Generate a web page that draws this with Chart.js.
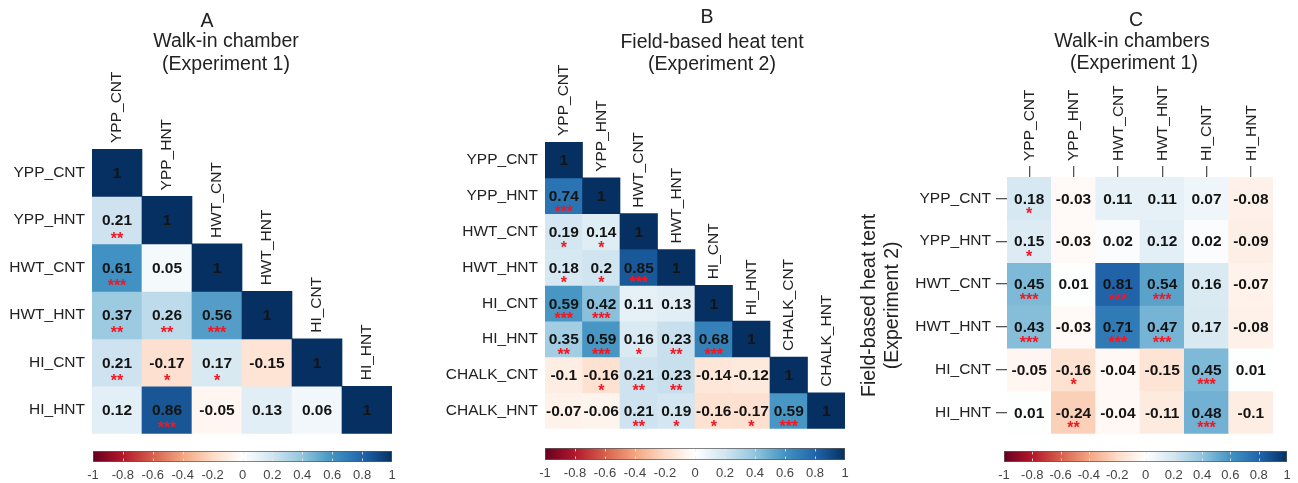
<!DOCTYPE html>
<html lang="en">
<head>
<meta charset="UTF-8" />
<title>Correlation heatmaps</title>
<script src="https://cdn.jsdelivr.net/npm/chart.js"></script>
<style>
    body { margin: 0; background: #fff; }
    #wrap { position: relative; width: 1298px; height: 483px; overflow: hidden; }
    #wrap canvas { position: absolute; }
</style>
</head>
<body>
<div id="wrap">
    <canvas id="heatA" width="400" height="450" style="left:0;top:0"></canvas>
    <canvas id="heatB" width="430" height="445" style="left:430px;top:0"></canvas>
    <canvas id="heatC" width="440" height="448" style="left:858px;top:0"></canvas>
    <canvas id="barA" width="330" height="43" style="left:80px;top:440px"></canvas>
    <canvas id="barB" width="330" height="46" style="left:530px;top:437px"></canvas>
    <canvas id="barC" width="308" height="43" style="left:990px;top:440px"></canvas>
</div>

<script>
const FONT = "'Liberation Sans', Arial, sans-serif";

// A: walk-in chamber, experiment 1 (lower triangle)
const traitsA = ['YPP_CNT', 'YPP_HNT', 'HWT_CNT', 'HWT_HNT', 'HI_CNT', 'HI_HNT'];
const corrA = [
    [1],
    [0.21, 1],
    [0.61, 0.05, 1],
    [0.37, 0.26, 0.56, 1],
    [0.21, -0.17, 0.17, -0.15, 1],
    [0.12, 0.86, -0.05, 0.13, 0.06, 1]
];
const starsA = [
    [''],
    ['**', ''],
    ['***', '', ''],
    ['**', '**', '***', ''],
    ['**', '*', '*', '', ''],
    ['', '***', '', '', '', '']
];

// B: field-based heat tent, experiment 2 (lower triangle)
const traitsB = ['YPP_CNT', 'YPP_HNT', 'HWT_CNT', 'HWT_HNT', 'HI_CNT', 'HI_HNT', 'CHALK_CNT', 'CHALK_HNT'];
const corrB = [
    [1],
    [0.74, 1],
    [0.19, 0.14, 1],
    [0.18, 0.2, 0.85, 1],
    [0.59, 0.42, 0.11, 0.13, 1],
    [0.35, 0.59, 0.16, 0.23, 0.68, 1],
    [-0.1, -0.16, 0.21, 0.23, -0.14, -0.12, 1],
    [-0.07, -0.06, 0.21, 0.19, -0.16, -0.17, 0.59, 1]
];
const starsB = [
    [''],
    ['***', ''],
    ['*', '*', ''],
    ['*', '*', '***', ''],
    ['***', '***', '', '', ''],
    ['**', '***', '*', '**', '***', ''],
    ['', '*', '**', '**', '', '', ''],
    ['', '', '**', '*', '*', '*', '***', '']
];

// C: experiment 2 (rows) vs experiment 1 (columns)
const rowsC = ['YPP_CNT', 'YPP_HNT', 'HWT_CNT', 'HWT_HNT', 'HI_CNT', 'HI_HNT'];
const colsC = ['YPP_CNT', 'YPP_HNT', 'HWT_CNT', 'HWT_HNT', 'HI_CNT', 'HI_HNT'];
const corrC = [
    [0.18, -0.03, 0.11, 0.11, 0.07, -0.08],
    [0.15, -0.03, 0.02, 0.12, 0.02, -0.09],
    [0.45, 0.01, 0.81, 0.54, 0.16, -0.07],
    [0.43, -0.03, 0.71, 0.47, 0.17, -0.08],
    [-0.05, -0.16, -0.04, -0.15, 0.45, 0.01],
    [0.01, -0.24, -0.04, -0.11, 0.48, -0.1]
];
const starsC = [
    ['*', '', '', '', '', ''],
    ['*', '', '', '', '', ''],
    ['***', '', '***', '***', '', ''],
    ['***', '', '***', '***', '', ''],
    ['', '*', '', '', '***', ''],
    ['', '**', '', '', '***', '']
];

const titleA = ['A', 'Walk-in chamber', '(Experiment 1)'];
const titleB = ['B', 'Field-based heat tent', '(Experiment 2)'];
const titleC = ['C', 'Walk-in chambers', '(Experiment 1)'];
const yTitleC = ['Field-based heat tent', '(Experiment 2)'];

const barTicks = [-1, -0.8, -0.6, -0.4, -0.2, 0, 0.2, 0.4, 0.6, 0.8, 1];
const rdbu = ['#67001F', '#B2182B', '#D6604D', '#F4A582', '#FDDBC7', '#FFFFFF',
              '#D1E5F0', '#92C5DE', '#4393C3', '#2166AC', '#053061'];

function hexRgb(h) {
    return [parseInt(h.slice(1, 3), 16), parseInt(h.slice(3, 5), 16), parseInt(h.slice(5, 7), 16)];
}

function corrColor(v) {
    const t = (v + 1) / 2 * (rdbu.length - 1);
    const i = Math.min(Math.floor(t), rdbu.length - 2);
    const f = t - i;
    const a = hexRgb(rdbu[i]), b = hexRgb(rdbu[i + 1]);
    const c = a.map((x, k) => Math.round(x + (b[k] - x) * f));
    return `rgb(${c[0]},${c[1]},${c[2]})`;
}

// numbers, stars, diagonal column labels and panel titles
function overlay(corr, stars, cfg) {
    return {
        id: 'overlay',
        afterDatasetsDraw(chart) {
            const {ctx, scales: {x, y}} = chart;
            ctx.save();
            ctx.textAlign = 'center';
            ctx.textBaseline = 'middle';
            corr.forEach((row, i) => row.forEach((v, j) => {
                const px = x.getPixelForValue(j), py = y.getPixelForValue(i);
                ctx.font = `bold 15.5px ${FONT}`;
                ctx.fillStyle = '#141414';
                ctx.fillText(String(v), px, py + 1);
                const s = stars[i][j];
                if (s) {
                    ctx.font = `bold 16px ${FONT}`;
                    ctx.fillStyle = '#f01822';
                    ctx.fillText(s, px, py + cfg.starDy);
                }
            }));
            ctx.restore();
        },
        afterDraw(chart) {
            const {ctx, scales: {x, y}} = chart;
            ctx.save();
            ctx.fillStyle = '#222';
            if (cfg.diagLabels) {
                ctx.font = `15.5px ${FONT}`;
                ctx.textAlign = 'left';
                ctx.textBaseline = 'middle';
                cfg.diagLabels.forEach((lab, j) => {
                    ctx.save();
                    ctx.translate(x.getPixelForValue(j), y.getPixelForValue(j - 0.5) - 6);
                    ctx.rotate(-Math.PI / 2);
                    ctx.fillText(lab, 0, 0);
                    ctx.restore();
                });
            }
            ctx.font = `19.5px ${FONT}`;
            ctx.textAlign = 'center';
            ctx.textBaseline = 'middle';
            cfg.title.forEach((t, k) => {
                const p = cfg.titlePos[k];
                ctx.fillText(t, p[0], p[1]);
            });
            ctx.restore();
        }
    };
}

function heatmap(id, rows, cols, corr, stars, cfg) {
    const datasets = rows.map((r, i) => ({
        label: r,
        data: cols.map((c, j) => corr[i][j] === undefined ? null : [i - 0.5, i + 0.5]),
        backgroundColor: cols.map((c, j) => corr[i][j] === undefined ? 'rgba(0,0,0,0)' : corrColor(corr[i][j])),
        borderWidth: 0,
        barPercentage: 1,
        categoryPercentage: 1,
        grouped: false
    }));

    const tickFont = {size: 15.5, family: FONT};
    const markGrid = {display: true, offset: false, drawOnChartArea: false, drawTicks: true,
                      tickLength: 11, color: '#555', lineWidth: 1.3};

    const xAxis = cfg.topAxis ? {
        type: 'category', position: 'top',
        grid: markGrid, border: {display: false},
        ticks: {autoSkip: false, minRotation: 90, maxRotation: 90, padding: 5, labelOffset: 19,
                color: '#222', font: tickFont},
        afterFit: s => { s.height = cfg.topAxis; }
    } : {type: 'category', display: false};

    new Chart(document.getElementById(id), {
        type: 'bar',
        data: {labels: cols, datasets: datasets},
        options: {
            responsive: false,
            animation: false,
            events: [],
            layout: {padding: cfg.pad},
            plugins: {legend: {display: false}, tooltip: {enabled: false}},
            scales: {
                x: xAxis,
                y: {
                    type: 'linear', reverse: true,
                    min: -0.5, max: rows.length - 0.5,
                    grid: cfg.topAxis ? markGrid : {display: false, drawTicks: false},
                    border: {display: false},
                    title: cfg.yTitle ? {display: true, text: cfg.yTitle, color: '#222',
                                         font: {size: 19.5, family: FONT}, padding: 0} : {display: false},
                    afterBuildTicks: s => { s.ticks = rows.map((r, i) => ({value: i})); },
                    afterFit: s => { s.width = cfg.yWidth; },
                    ticks: {padding: cfg.topAxis ? 5 : 7, color: '#222', font: tickFont,
                            callback: v => rows[v]}
                }
            }
        },
        plugins: [overlay(corr, stars, cfg)]
    });
}

const notches = {
    id: 'notches',
    afterDatasetsDraw(chart) {
        const {ctx, chartArea: a, scales: {x}} = chart;
        ctx.save();
        ctx.strokeStyle = 'rgba(235,235,235,0.8)';
        ctx.lineWidth = 1;
        barTicks.slice(1, -1).forEach(v => {
            const px = Math.round(x.getPixelForValue(v)) + 0.5;
            ctx.beginPath();
            ctx.moveTo(px, a.bottom - 1); ctx.lineTo(px, a.bottom - 3.5);
            ctx.moveTo(px, a.top + 1); ctx.lineTo(px, a.top + 3.5);
            ctx.stroke();
        });
        ctx.restore();
    }
};

function colorBar(id, pad, axisH) {
    new Chart(document.getElementById(id), {
        type: 'bar',
        data: {
            labels: ['r'],
            datasets: [{
                data: [[barTicks[0], barTicks[barTicks.length - 1]]],
                backgroundColor: c => {
                    const a = c.chart.chartArea;
                    if (!a) return null;
                    const g = c.chart.ctx.createLinearGradient(a.left, 0, a.right, 0);
                    rdbu.forEach((col, k) => g.addColorStop(k / (rdbu.length - 1), col));
                    return g;
                },
                borderColor: '#5a5a5a',
                borderWidth: 1,
                borderSkipped: false,
                barPercentage: 1,
                categoryPercentage: 1
            }]
        },
        options: {
            indexAxis: 'y',
            responsive: false,
            animation: false,
            events: [],
            layout: {padding: pad},
            plugins: {legend: {display: false}, tooltip: {enabled: false}},
            scales: {
                x: {
                    type: 'linear', min: -1, max: 1,
                    grid: {display: false, drawTicks: false},
                    border: {display: false},
                    afterBuildTicks: s => { s.ticks = barTicks.map(v => ({value: v})); },
                    afterFit: s => { s.height = axisH; },
                    ticks: {autoSkip: false, maxRotation: 0, padding: 6, color: '#444',
                            font: {size: 13, family: FONT}, callback: v => String(v)}
                },
                y: {display: false}
            }
        },
        plugins: [notches]
    });
}

heatmap('heatA', traitsA, traitsA, corrA, starsA, {
    pad: {left: 0, right: 8, top: 149, bottom: 1},
    yWidth: 92, starDy: 19,
    diagLabels: traitsA,
    title: titleA, titlePos: [[207, 21.5], [226, 42], [226, 65]]
});

heatmap('heatB', traitsB, traitsB, corrB, starsB, {
    pad: {left: 0, right: 15, top: 142, bottom: 3},
    yWidth: 115, starDy: 16.5,
    diagLabels: traitsB,
    title: titleB, titlePos: [[277, 18], [282, 42.5], [282, 65]]
});

heatmap('heatC', rowsC, colsC, corrC, starsC, {
    pad: {left: 0, right: 25, top: 0, bottom: 3},
    yWidth: 149, topAxis: 177, starDy: 16.5,
    yTitle: yTitleC,
    title: titleC, titlePos: [[278, 20.5], [274, 42], [276, 64]]
});

colorBar('barA', {left: 13, right: 18, top: 11, bottom: 0}, 21);
colorBar('barB', {left: 15, right: 15, top: 11, bottom: 0}, 23);
colorBar('barC', {left: 14, right: 11, top: 11, bottom: 0}, 21);
</script>
</body>
</html>
